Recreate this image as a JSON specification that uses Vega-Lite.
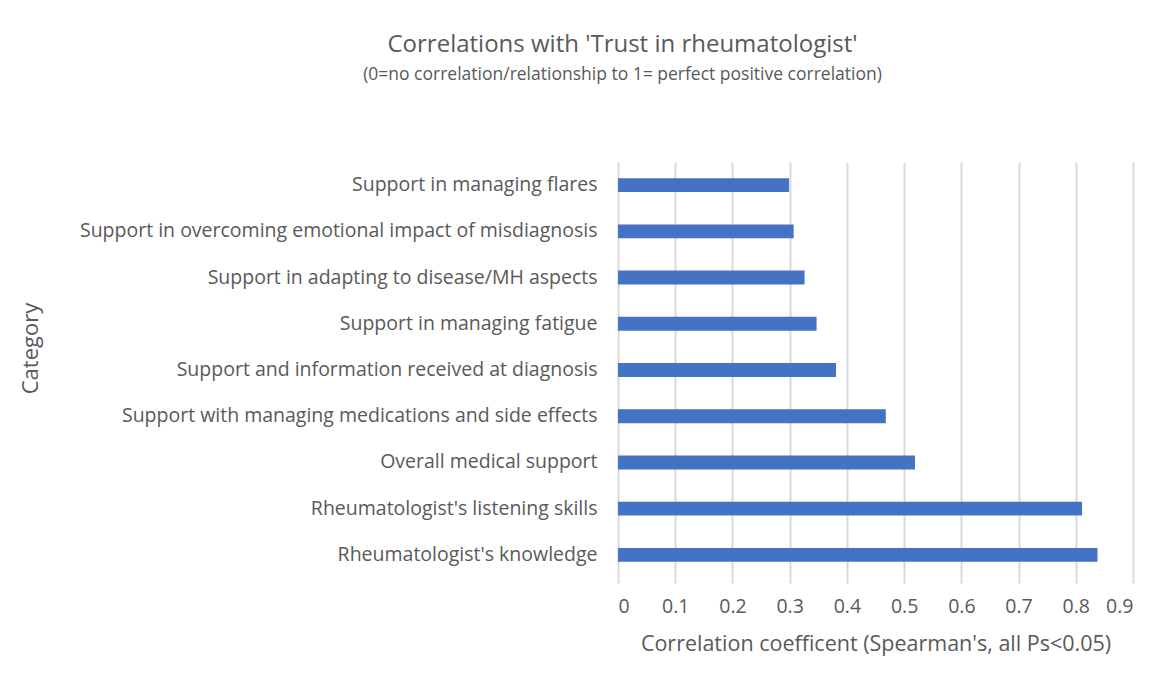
{
  "$schema": "https://vega.github.io/schema/vega-lite/v6.json",
  "autosize": "none",
  "width": 515,
  "height": 416,
  "padding": {"left": 618, "top": 162, "right": 31, "bottom": 106},
  "background": "white",
  "title": {
    "text": "Correlations with 'Trust in rheumatologist'",
    "subtitle": "(0=no correlation/relationship to 1= perfect positive correlation)",
    "anchor": "middle",
    "frame": "group",
    "dx": -253,
    "offset": 79,
    "font": "Open Sans",
    "fontSize": 24,
    "fontWeight": "normal",
    "color": "#595959",
    "subtitleFont": "Open Sans",
    "subtitleFontSize": 17.5,
    "subtitleColor": "#595959",
    "subtitlePadding": 9
  },
  "data": {
    "values": [
      {"category": "Support in managing flares", "r": 0.299, "order": 1},
      {"category": "Support in overcoming emotional impact of misdiagnosis", "r": 0.307, "order": 2},
      {"category": "Support in adapting to disease/MH aspects", "r": 0.326, "order": 3},
      {"category": "Support in managing fatigue", "r": 0.347, "order": 4},
      {"category": "Support and information received at diagnosis", "r": 0.381, "order": 5},
      {"category": "Support with managing medications and side effects", "r": 0.468, "order": 6},
      {"category": "Overall medical support", "r": 0.519, "order": 7},
      {"category": "Rheumatologist's listening skills", "r": 0.811, "order": 8},
      {"category": "Rheumatologist's knowledge", "r": 0.838, "order": 9}
    ]
  },
  "mark": {"type": "bar", "color": "#4472C4"},
  "encoding": {
    "y": {
      "field": "category",
      "type": "nominal",
      "sort": {"field": "order", "order": "ascending"},
      "scale": {"paddingInner": 0.7, "paddingOuter": 0.35},
      "axis": {
        "title": "Category",
        "titleFont": "Open Sans",
        "titleFontSize": 22,
        "titleFontWeight": "normal",
        "titleColor": "#595959",
        "titleX": -588,
        "titleY": 186,
        "titleAngle": -90,
        "titleAlign": "center",
        "titleBaseline": "middle",
        "labelFont": "Open Sans",
        "labelFontSize": 19.5,
        "labelColor": "#595959",
        "labelPadding": 21,
        "labelLimit": 700,
        "ticks": false,
        "domain": false
      }
    },
    "x": {
      "field": "r",
      "type": "quantitative",
      "scale": {"domain": [0, 0.9], "nice": false},
      "axis": {
        "title": "Correlation coefficent  (Spearman's, all Ps<0.05)",
        "titleFont": "Open Sans",
        "titleFontSize": 21.5,
        "titleFontWeight": "normal",
        "titleColor": "#595959",
        "titlePadding": 18,
        "values": [0, 0.1, 0.2, 0.3, 0.4, 0.5, 0.6, 0.7, 0.8, 0.9],
        "format": ".1~f",
        "labelFont": "Open Sans",
        "labelFontSize": 19.5,
        "labelColor": "#595959",
        "labelPadding": 14,
        "grid": true,
        "gridColor": "#d9d9d9",
        "gridWidth": 2,
        "ticks": true,
        "tickColor": "#d9d9d9",
        "tickWidth": 2,
        "tickSize": 5,
        "domain": false
      }
    }
  },
  "config": {
    "view": {"stroke": null}
  }
}
